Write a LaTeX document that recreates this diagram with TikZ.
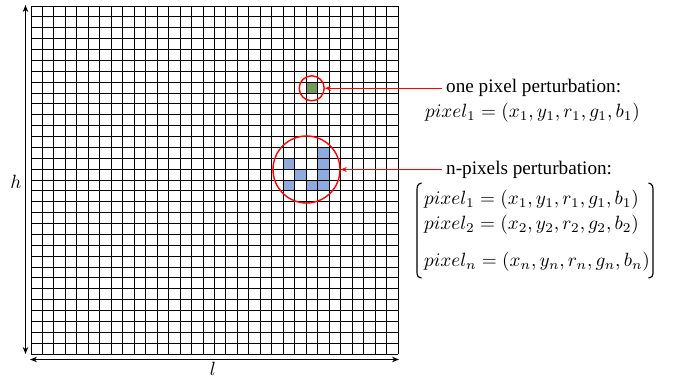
\documentclass[tikz,border=0pt]{standalone}
\usepackage{graphicx}
\usepackage[no-math]{fontspec}
\setmainfont{Liberation Serif}
\newfontfamily\labelfont{Liberation Serif}
\usetikzlibrary{arrows.meta}
\definecolor{pixgreen}{HTML}{739A57}
\definecolor{pixblue}{HTML}{8FAADC}
\definecolor{myred}{HTML}{FF0000}
\newcommand{\scmath}[1]{\scalebox{1.92}{$#1$}}
\begin{document}
\begin{tikzpicture}[x=1pt,y=-1pt,
  gridline/.style={line width=1pt,black},
  redcirc/.style={circle,draw=myred,line width=1.4pt,inner sep=0pt},
  redarrow/.style={draw=myred,line width=1.3pt,-{Stealth[length=6pt,width=5pt]}},
  dimarrow/.style={line width=1.9pt,{Stealth[length=7pt,width=5.5pt]}-{Stealth[length=7pt,width=5.5pt]}},
  lbl/.style={font=\labelfont\fontsize{19.2}{22}\selectfont,inner sep=4pt},
  mathlbl/.style={inner sep=0pt,anchor=west},
  bracket/.style={line width=1.2pt}]
\useasboundingbox (0,0) rectangle (675,380);
\def\cw{11.46875}
\def\ch{10.875}
% coloured pixels
\fill[pixgreen] ({31+24*\cw},{6+7*\ch}) rectangle ++(\cw,\ch);
\foreach \c/\r in {25/13,22/14,25/14,23/15,25/15,22/16,24/16,25/16}
  \fill[pixblue] ({31+\c*\cw},{6+\r*\ch}) rectangle ++(\cw,\ch);
% grid
\foreach \i in {0,...,32} {
  \draw[gridline] ({31+\i*\cw},6) -- ({31+\i*\cw},354);
  \draw[gridline] (31,{6+\i*\ch}) -- (398,{6+\i*\ch});
}
% dimension arrows
\coordinate (htop) at (25.5,5);
\coordinate (hbot) at (25.5,354);
\coordinate (lleft) at (30,359.5);
\coordinate (lright) at (399,359.5);
\draw[dimarrow] (htop) -- (hbot);
\draw[dimarrow] (lleft) -- (lright);
\node (hl) at (16,182) {\scmath{h}};
\node (ll) at (213,369) {\scmath{l}};
% circles
\node[redcirc,minimum size=25pt] (c1) at (311.7,88.3) {};
\node[redcirc,minimum size=67pt] (c2) at (306.5,169.5) {};
% labels
\node[lbl,anchor=west] (t1) at (442,88.3) {one pixel perturbation:};
\node[mathlbl] (m1) at (425,113) {\scmath{pixel_1 = (x_1, y_1, r_1, g_1, b_1)}};
\node[lbl,anchor=west] (t2) at (442,169.5) {n-pixels perturbation:};
\node[mathlbl] (p1) at (424,200) {\scmath{pixel_1 = (x_1, y_1, r_1, g_1, b_1)}};
\node[mathlbl] (p2) at (424,225) {\scmath{pixel_2 = (x_2, y_2, r_2, g_2, b_2)}};
\node[mathlbl] (pn) at (424,262) {\scmath{pixel_n = (x_n, y_n, r_n, g_n, b_n)}};
% arrows
\draw[redarrow] (t1.west) -- (c1.east);
\draw[redarrow] (t2.west) -- (c2.east);
% brackets
\draw[bracket] (421.5,183) .. controls (417.5,184) and (417,186) .. (417,191) -- (417,271) .. controls (417,276) and (417.5,277) .. (421.5,278);
\draw[bracket] (648.5,183) .. controls (652.5,184) and (653,186) .. (653,191) -- (653,271) .. controls (653,276) and (652.5,277) .. (648.5,278);
\end{tikzpicture}
\end{document}
